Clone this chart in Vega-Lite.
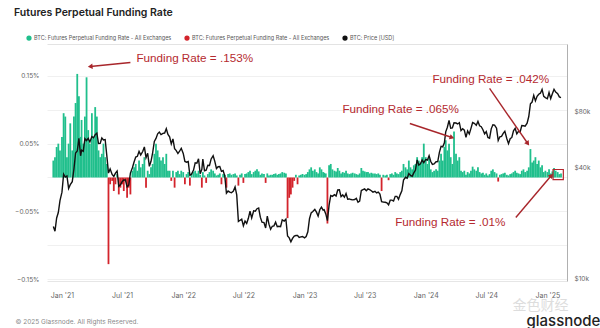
{
  "$schema": "https://vega.github.io/schema/vega-lite/v6.json",
  "width": 520,
  "height": 237,
  "autosize": {"type": "none"},
  "padding": {"left": 47, "top": 44, "right": 33, "bottom": 47},
  "background": "white",
  "config": {"view": {"stroke": null}, "font": "Inter"},
  "title": {"text": "Futures Perpetual Funding Rate", "anchor": "start", "frame": "group", "dx": -33, "offset": 17, "fontSize": 10.5, "fontWeight": 600, "color": "#222222", "font": "Inter"},
  "datasets": {
    "main": [
      {"t":"2020-12-06","f":0.025,"p":19150},{"t":"2020-12-11","f":0.03,"p":18050},{"t":"2020-12-16","f":0.045,"p":21300},{"t":"2020-12-21","f":0.05,"p":22800},{"t":"2020-12-26","f":0.04,"p":26450},
      {"t":"2021-01-01","f":0.06,"p":29400},{"t":"2021-01-06","f":0.095,"p":36800},{"t":"2021-01-11","f":0.09,"p":35500},{"t":"2021-01-16","f":0.03,"p":36000},{"t":"2021-01-21","f":0.05,"p":30800},{"t":"2021-01-26","f":0.08,"p":32300},
      {"t":"2021-02-01","f":0.04,"p":33500},{"t":"2021-02-06","f":0.09,"p":39200},{"t":"2021-02-11","f":0.11,"p":47900},{"t":"2021-02-16","f":0.153,"p":49100},{"t":"2021-02-21","f":0.12,"p":57500},{"t":"2021-02-26","f":0.06,"p":46300},
      {"t":"2021-03-01","f":0.085,"p":49600},{"t":"2021-03-06","f":0.05,"p":48900},{"t":"2021-03-11","f":0.09,"p":57300},{"t":"2021-03-16","f":0.148,"p":56000},{"t":"2021-03-21","f":0.07,"p":57500},{"t":"2021-03-26","f":0.05,"p":55000},
      {"t":"2021-04-01","f":0.095,"p":58900},{"t":"2021-04-06","f":0.06,"p":58000},{"t":"2021-04-11","f":0.104,"p":60200},{"t":"2021-04-16","f":0.09,"p":61400},{"t":"2021-04-21","f":0.04,"p":53900},{"t":"2021-04-26","f":0.03,"p":54000},
      {"t":"2021-05-01","f":0.035,"p":57800},{"t":"2021-05-06","f":0.05,"p":56400},{"t":"2021-05-11","f":0.03,"p":56700},{"t":"2021-05-16","f":0.02,"p":46400},{"t":"2021-05-21","f":-0.128,"p":37300},{"t":"2021-05-26","f":-0.01,"p":39300},
      {"t":"2021-06-01","f":-0.005,"p":36700},{"t":"2021-06-06","f":-0.02,"p":35800},{"t":"2021-06-11","f":-0.01,"p":37300},{"t":"2021-06-16","f":0.005,"p":38300},{"t":"2021-06-21","f":-0.025,"p":31600},{"t":"2021-06-26","f":-0.015,"p":32200},
      {"t":"2021-07-01","f":-0.01,"p":33500},{"t":"2021-07-06","f":-0.02,"p":34200},{"t":"2021-07-11","f":-0.005,"p":34200},{"t":"2021-07-16","f":-0.03,"p":31400},{"t":"2021-07-21","f":-0.015,"p":32100},{"t":"2021-07-26","f":-0.025,"p":37300},
      {"t":"2021-08-01","f":0.01,"p":39900},{"t":"2021-08-06","f":0.015,"p":42800},{"t":"2021-08-11","f":0.02,"p":45600},{"t":"2021-08-16","f":0.01,"p":46000},{"t":"2021-08-21","f":0.025,"p":48900},{"t":"2021-08-26","f":0.015,"p":46800},
      {"t":"2021-09-01","f":0.02,"p":48800},{"t":"2021-09-06","f":0.03,"p":51700},{"t":"2021-09-11","f":-0.015,"p":45200},{"t":"2021-09-16","f":0.01,"p":47800},{"t":"2021-09-21","f":0.005,"p":40600},{"t":"2021-09-26","f":0.015,"p":43200},
      {"t":"2021-10-01","f":0.02,"p":48200},{"t":"2021-10-06","f":0.035,"p":55400},{"t":"2021-10-11","f":0.05,"p":57500},{"t":"2021-10-16","f":0.04,"p":60900},{"t":"2021-10-21","f":0.03,"p":62200},{"t":"2021-10-26","f":0.025,"p":60300},
      {"t":"2021-11-01","f":0.03,"p":61300},{"t":"2021-11-06","f":0.02,"p":61500},{"t":"2021-11-11","f":0.035,"p":64900},{"t":"2021-11-16","f":0.01,"p":60400},{"t":"2021-11-21","f":0.01,"p":58600},{"t":"2021-11-26","f":-0.005,"p":53700},
      {"t":"2021-12-01","f":0.01,"p":57200},{"t":"2021-12-06","f":-0.015,"p":50600},{"t":"2021-12-11","f":0.008,"p":49400},{"t":"2021-12-16","f":0.01,"p":47600},{"t":"2021-12-21","f":0.005,"p":49000},{"t":"2021-12-26","f":0.01,"p":50800},
      {"t":"2022-01-01","f":0.008,"p":47700},{"t":"2022-01-06","f":-0.01,"p":43100},{"t":"2022-01-11","f":0.005,"p":42700},{"t":"2022-01-16","f":0.008,"p":43100},{"t":"2022-01-21","f":-0.012,"p":36300},{"t":"2022-01-26","f":0.006,"p":36800},
      {"t":"2022-02-01","f":0.008,"p":38700},{"t":"2022-02-06","f":0.01,"p":42400},{"t":"2022-02-11","f":0.006,"p":42200},{"t":"2022-02-16","f":0.01,"p":44600},{"t":"2022-02-21","f":0.004,"p":37000},{"t":"2022-02-26","f":-0.015,"p":39100},
      {"t":"2022-03-01","f":0.008,"p":44400},{"t":"2022-03-06","f":0.003,"p":38400},{"t":"2022-03-11","f":-0.008,"p":38700},{"t":"2022-03-16","f":0.005,"p":41100},{"t":"2022-03-21","f":0.008,"p":41000},{"t":"2022-03-26","f":0.012,"p":44500},
      {"t":"2022-04-01","f":0.01,"p":46300},{"t":"2022-04-06","f":0.006,"p":43200},{"t":"2022-04-11","f":0.003,"p":39500},{"t":"2022-04-16","f":0.004,"p":40400},{"t":"2022-04-21","f":0.006,"p":40500},{"t":"2022-04-26","f":-0.01,"p":38100},
      {"t":"2022-05-01","f":0.005,"p":38500},{"t":"2022-05-06","f":0.004,"p":36000},{"t":"2022-05-11","f":-0.015,"p":29000},{"t":"2022-05-16","f":0.005,"p":29800},{"t":"2022-05-21","f":0.006,"p":29400},{"t":"2022-05-26","f":0.004,"p":29200},
      {"t":"2022-06-01","f":0.005,"p":29800},{"t":"2022-06-06","f":0.006,"p":31400},{"t":"2022-06-11","f":0.003,"p":28400},{"t":"2022-06-16","f":-0.012,"p":20400},{"t":"2022-06-21","f":0.004,"p":20700},{"t":"2022-06-26","f":0.006,"p":21000},
      {"t":"2022-07-01","f":-0.008,"p":19300},{"t":"2022-07-06","f":0.005,"p":20500},{"t":"2022-07-11","f":0.006,"p":19900},{"t":"2022-07-16","f":0.008,"p":21200},{"t":"2022-07-21","f":0.01,"p":23200},{"t":"2022-07-26","f":0.005,"p":21300},
      {"t":"2022-08-01","f":0.008,"p":23300},{"t":"2022-08-06","f":0.01,"p":23200},{"t":"2022-08-11","f":0.012,"p":23900},{"t":"2022-08-16","f":0.009,"p":24100},{"t":"2022-08-21","f":0.004,"p":21500},{"t":"2022-08-26","f":0.006,"p":20200},
      {"t":"2022-09-01","f":0.005,"p":20100},{"t":"2022-09-06","f":-0.008,"p":18800},{"t":"2022-09-11","f":0.006,"p":21800},{"t":"2022-09-16","f":0.003,"p":19700},{"t":"2022-09-21","f":0.004,"p":18500},{"t":"2022-09-26","f":0.004,"p":19200},
      {"t":"2022-10-01","f":0.005,"p":19300},{"t":"2022-10-06","f":0.006,"p":20200},{"t":"2022-10-11","f":0.004,"p":19100},{"t":"2022-10-16","f":0.005,"p":19200},{"t":"2022-10-21","f":0.006,"p":19100},{"t":"2022-10-26","f":0.008,"p":20800},
      {"t":"2022-11-01","f":0.007,"p":20500},{"t":"2022-11-06","f":0.006,"p":21000},{"t":"2022-11-11","f":-0.06,"p":17000},{"t":"2022-11-16","f":-0.03,"p":16600},{"t":"2022-11-21","f":-0.025,"p":15800},{"t":"2022-11-26","f":-0.015,"p":16500},
      {"t":"2022-12-01","f":-0.005,"p":17000},{"t":"2022-12-06","f":0.004,"p":17100},{"t":"2022-12-11","f":-0.01,"p":17100},{"t":"2022-12-16","f":0.003,"p":16700},{"t":"2022-12-21","f":0.004,"p":16800},{"t":"2022-12-26","f":0.005,"p":16900},
      {"t":"2023-01-01","f":0.004,"p":16600},{"t":"2023-01-06","f":0.005,"p":16900},{"t":"2023-01-11","f":0.008,"p":17900},{"t":"2023-01-16","f":0.012,"p":21100},{"t":"2023-01-21","f":0.015,"p":22700},{"t":"2023-01-26","f":0.01,"p":23100},
      {"t":"2023-02-01","f":0.012,"p":23700},{"t":"2023-02-06","f":0.008,"p":22900},{"t":"2023-02-11","f":0.006,"p":21800},{"t":"2023-02-16","f":0.015,"p":23600},{"t":"2023-02-21","f":0.012,"p":24400},{"t":"2023-02-26","f":0.008,"p":23500},
      {"t":"2023-03-01","f":0.007,"p":23600},{"t":"2023-03-06","f":0.006,"p":22400},{"t":"2023-03-11","f":-0.068,"p":20600},{"t":"2023-03-16","f":0.018,"p":25000},{"t":"2023-03-21","f":0.02,"p":28200},{"t":"2023-03-26","f":0.012,"p":27900},
      {"t":"2023-04-01","f":0.01,"p":28500},{"t":"2023-04-06","f":0.009,"p":28000},{"t":"2023-04-11","f":0.014,"p":30200},{"t":"2023-04-16","f":0.01,"p":30300},{"t":"2023-04-21","f":0.006,"p":27800},{"t":"2023-04-26","f":0.008,"p":28400},
      {"t":"2023-05-01","f":0.007,"p":27600},{"t":"2023-05-06","f":0.01,"p":28900},{"t":"2023-05-11","f":0.006,"p":26900},{"t":"2023-05-16","f":0.005,"p":27000},{"t":"2023-05-21","f":0.006,"p":26800},{"t":"2023-05-26","f":0.007,"p":26700},
      {"t":"2023-06-01","f":0.006,"p":26800},{"t":"2023-06-06","f":0.005,"p":27200},{"t":"2023-06-11","f":0.004,"p":25900},{"t":"2023-06-16","f":0.006,"p":26300},{"t":"2023-06-21","f":0.014,"p":30000},{"t":"2023-06-26","f":0.01,"p":30300},
      {"t":"2023-07-01","f":0.009,"p":30600},{"t":"2023-07-06","f":0.008,"p":29900},{"t":"2023-07-11","f":0.008,"p":30600},{"t":"2023-07-16","f":0.006,"p":30300},{"t":"2023-07-21","f":0.007,"p":29900},{"t":"2023-07-26","f":0.006,"p":29400},
      {"t":"2023-08-01","f":0.006,"p":29700},{"t":"2023-08-06","f":0.005,"p":29100},{"t":"2023-08-11","f":0.006,"p":29400},{"t":"2023-08-16","f":0.004,"p":28700},{"t":"2023-08-21","f":-0.02,"p":26100},{"t":"2023-08-26","f":0.004,"p":26000},
      {"t":"2023-09-01","f":0.003,"p":25900},{"t":"2023-09-06","f":0.004,"p":25700},{"t":"2023-09-11","f":-0.004,"p":25100},{"t":"2023-09-16","f":0.005,"p":26600},{"t":"2023-09-21","f":0.006,"p":26600},{"t":"2023-09-26","f":0.004,"p":26300},
      {"t":"2023-10-01","f":0.008,"p":27900},{"t":"2023-10-06","f":0.006,"p":27900},{"t":"2023-10-11","f":0.005,"p":26900},{"t":"2023-10-16","f":0.008,"p":28500},{"t":"2023-10-21","f":0.01,"p":29900},{"t":"2023-10-26","f":0.02,"p":34200},
      {"t":"2023-11-01","f":0.015,"p":35400},{"t":"2023-11-06","f":0.012,"p":35000},{"t":"2023-11-11","f":0.025,"p":37100},{"t":"2023-11-16","f":0.015,"p":36200},{"t":"2023-11-21","f":0.012,"p":35800},{"t":"2023-11-26","f":0.018,"p":37400},
      {"t":"2023-12-01","f":0.02,"p":38700},{"t":"2023-12-06","f":0.03,"p":44000},{"t":"2023-12-11","f":0.025,"p":41200},{"t":"2023-12-16","f":0.022,"p":41900},{"t":"2023-12-21","f":0.03,"p":43900},{"t":"2023-12-26","f":0.05,"p":42500},
      {"t":"2024-01-01","f":0.03,"p":44200},{"t":"2024-01-06","f":0.02,"p":43900},{"t":"2024-01-11","f":0.028,"p":46300},{"t":"2024-01-16","f":0.012,"p":43100},{"t":"2024-01-21","f":0.008,"p":41600},{"t":"2024-01-26","f":0.01,"p":41800},
      {"t":"2024-02-01","f":0.012,"p":43000},{"t":"2024-02-06","f":0.01,"p":43100},{"t":"2024-02-11","f":0.025,"p":48300},{"t":"2024-02-16","f":0.035,"p":52100},{"t":"2024-02-21","f":0.025,"p":51800},{"t":"2024-02-26","f":0.045,"p":54500},
      {"t":"2024-03-01","f":0.055,"p":62400},{"t":"2024-03-06","f":0.04,"p":66100},{"t":"2024-03-11","f":0.05,"p":72100},{"t":"2024-03-16","f":0.03,"p":65300},{"t":"2024-03-21","f":0.02,"p":65500},{"t":"2024-03-26","f":0.068,"p":69900},
      {"t":"2024-04-01","f":0.035,"p":69700},{"t":"2024-04-06","f":0.025,"p":68900},{"t":"2024-04-11","f":0.03,"p":70000},{"t":"2024-04-16","f":0.01,"p":63400},{"t":"2024-04-21","f":0.008,"p":64900},{"t":"2024-04-26","f":0.01,"p":63800},
      {"t":"2024-05-01","f":0.004,"p":58300},{"t":"2024-05-06","f":0.008,"p":63200},{"t":"2024-05-11","f":0.006,"p":60800},{"t":"2024-05-16","f":0.01,"p":65200},{"t":"2024-05-21","f":0.016,"p":70100},{"t":"2024-05-26","f":0.012,"p":69400},
      {"t":"2024-06-01","f":0.01,"p":67800},{"t":"2024-06-06","f":0.015,"p":71100},{"t":"2024-06-11","f":0.008,"p":67300},{"t":"2024-06-16","f":0.006,"p":66600},{"t":"2024-06-21","f":0.007,"p":64100},{"t":"2024-06-26","f":0.004,"p":60900},
      {"t":"2024-07-01","f":0.006,"p":62700},{"t":"2024-07-06","f":0.003,"p":58200},{"t":"2024-07-11","f":0.005,"p":57700},{"t":"2024-07-16","f":0.01,"p":64800},{"t":"2024-07-21","f":0.012,"p":68200},{"t":"2024-07-26","f":0.008,"p":67900},
      {"t":"2024-08-01","f":0.006,"p":65300},{"t":"2024-08-06","f":-0.006,"p":56000},{"t":"2024-08-11","f":0.004,"p":58700},{"t":"2024-08-16","f":0.005,"p":59000},{"t":"2024-08-21","f":0.006,"p":61200},{"t":"2024-08-26","f":0.007,"p":62900},
      {"t":"2024-09-01","f":0.004,"p":57300},{"t":"2024-09-06","f":0.003,"p":53900},{"t":"2024-09-11","f":0.005,"p":57300},{"t":"2024-09-16","f":0.006,"p":58200},{"t":"2024-09-21","f":0.008,"p":63300},{"t":"2024-09-26","f":0.01,"p":65200},
      {"t":"2024-10-01","f":0.007,"p":60800},{"t":"2024-10-06","f":0.006,"p":62800},{"t":"2024-10-11","f":0.005,"p":62400},{"t":"2024-10-16","f":0.01,"p":67600},{"t":"2024-10-21","f":0.012,"p":67400},{"t":"2024-10-26","f":0.008,"p":67000},
      {"t":"2024-11-01","f":0.01,"p":69500},{"t":"2024-11-06","f":0.015,"p":75600},{"t":"2024-11-11","f":0.042,"p":88700},{"t":"2024-11-16","f":0.022,"p":90600},{"t":"2024-11-21","f":0.025,"p":98400},{"t":"2024-11-26","f":0.03,"p":91900},
      {"t":"2024-12-01","f":0.02,"p":97300},{"t":"2024-12-06","f":0.025,"p":99900},{"t":"2024-12-11","f":0.015,"p":101200},{"t":"2024-12-16","f":0.018,"p":106100},{"t":"2024-12-21","f":0.008,"p":97200},{"t":"2024-12-26","f":0.01,"p":95800},
      {"t":"2025-01-01","f":0.008,"p":94400},{"t":"2025-01-06","f":0.012,"p":102100},{"t":"2025-01-11","f":0.006,"p":94600},{"t":"2025-01-16","f":0.009,"p":100500},{"t":"2025-01-21","f":0.014,"p":106100},{"t":"2025-01-26","f":0.01,"p":102600},
      {"t":"2025-02-01","f":0.008,"p":100600},{"t":"2025-02-06","f":0.005,"p":96600},{"t":"2025-02-11","f":0.006,"p":95800}
    ],
    "notes": [
      {"t":"2021-08-13","f":0.1758,"label":"Funding Rate = .153%"},
      {"t":"2023-04-25","f":0.1015,"label":"Funding Rate = .065%"},
      {"t":"2024-01-21","f":0.1458,"label":"Funding Rate = .042%"},
      {"t":"2023-10-01","f":-0.066,"label":"Funding Rate = .01%"}
    ],
    "arrows": [
      {"t":"2021-07-26","f":0.1699,"t2":"2021-03-27","f2":0.164},
      {"t":"2023-11-14","f":0.0798,"t2":"2024-03-20","f2":0.0591},
      {"t":"2024-07-11","f":0.1315,"t2":"2024-11-03","f2":0.0502},
      {"t":"2024-09-28","f":-0.0591,"t2":"2025-01-13","f2":0.003}
    ]
  },
  "resolve": {"scale": {"y": "independent"}, "axis": {"x": "independent"}},
  "layer": [
    {
      "data": {"name": "main"},
      "mark": {"type": "bar", "width": 1.8, "clip": true},
      "encoding": {
        "x": {"field": "t", "type": "temporal", "scale": {"domain": [{"year": 2020, "month": 12, "date": 2}, {"year": 2025, "month": 2, "date": 14}]},
          "axis": {"format": "%b '%y", "tickCount": {"interval": "month", "step": 6}, "labelFontSize": 7, "labelColor": "#666666", "ticks": false, "domain": true, "domainColor": "#e6e6e6", "grid": false, "labelPadding": 10,
            "title": "© 2025 Glassnode. All Rights Reserved.", "titleFontSize": 6.5, "titleColor": "#8a8a8a", "titleFontWeight": "normal", "titleAnchor": "start", "titleAlign": "left", "titleX": -32, "titleY": 40, "titleBaseline": "middle"}},
        "y": {"field": "f", "type": "quantitative", "scale": {"domain": [-0.1529, 0.1972]},
          "axis": {"values": [-0.15, -0.1, -0.05, 0, 0.05, 0.1, 0.15], "labelExpr": "(abs(datum.value) > 0.04 && abs(datum.value) < 0.06) || abs(datum.value) > 0.14 ? format(datum.value, '.2f') + '%' : ''", "grid": true, "gridColor": "#f0f0f0", "domain": false, "ticks": false, "labelFontSize": 6.5, "labelColor": "#666666", "labelPadding": 8,
            "title": "金色财经", "titleAngle": 0, "titleX": 465, "titleY": 261, "titleFontSize": 14, "titleColor": "#dddddd", "titleFont": "Noto Sans CJK SC", "titleFontWeight": "normal", "titleAlign": "left", "titleBaseline": "middle"}},
        "color": {"datum": "pos", "type": "nominal", "condition": {"test": "datum.f < 0", "value": "#d3242c"},
          "scale": {"domain": ["pos", "neg", "price"], "range": ["#20bf8c", "#d3242c", "#111111"]},
          "legend": {"orient": "none", "legendX": -21, "legendY": -9, "direction": "horizontal", "title": null, "labelFontSize": 5.5, "labelColor": "#555555", "symbolType": "circle", "symbolSize": 14, "columnPadding": 10, "labelOffset": 2,
            "labelExpr": "datum.value == 'price' ? 'BTC: Price [USD]' : 'BTC: Futures Perpetual Funding Rate - All Exchanges'"}}
      }
    },
    {
      "data": {"name": "main"},
      "mark": {"type": "line", "strokeWidth": 1.4},
      "encoding": {
        "x": {"field": "t", "type": "temporal", "scale": {"domain": [{"year": 2020, "month": 12, "date": 2}, {"year": 2025, "month": 2, "date": 14}]},
          "axis": {"orient": "top", "labels": false, "ticks": false, "grid": false, "domain": true, "domainColor": "#e3e3e3", "title": null}},
        "y": {"field": "p", "type": "quantitative", "scale": {"type": "log", "domain": [9690, 187000]},
          "axis": {"orient": "right", "values": [10000, 40000, 80000], "labelExpr": "'$' + (datum.value / 1000) + 'k'", "grid": false, "domain": true, "domainColor": "#b0b0b0", "ticks": false, "labelFontSize": 6.5, "labelColor": "#666666", "labelPadding": 7,
            "title": "glassnode", "titleAngle": 0, "titleX": -41, "titleY": 276, "titleFontSize": 15, "titleFont": "Inter", "titleFontWeight": 500, "titleColor": "#222222", "titleAlign": "left", "titleBaseline": "middle"}},
        "color": {"datum": "price", "type": "nominal"}
      }
    },
    {
      "encoding": {
        "x": {"field": "t", "type": "temporal", "axis": null, "scale": {"domain": [{"year": 2020, "month": 12, "date": 2}, {"year": 2025, "month": 2, "date": 14}]}},
        "y": {"field": "f", "type": "quantitative", "axis": null, "scale": {"domain": [-0.1529, 0.1972]}}
      },
      "layer": [
        {
          "data": {"values": [{"t": "2025-01-18", "t2": "2025-02-18", "f": 0.0118, "f2": -0.003}]},
          "mark": {"type": "rect", "filled": false, "color": "#b3262d", "strokeWidth": 1.2},
          "encoding": {"x2": {"field": "t2"}, "y2": {"field": "f2"}}
        },
        {
          "data": {"name": "arrows"},
          "mark": {"type": "rule", "color": "#a8262b", "strokeWidth": 1.4},
          "encoding": {"x2": {"field": "t2"}, "y2": {"field": "f2"}}
        },
        {
          "data": {"values": [{"t": "2021-03-27", "f": 0.164}]},
          "mark": {"type": "point", "shape": "triangle-up", "filled": true, "color": "#a8262b", "size": 30, "opacity": 1, "angle": 264},
          "encoding": {}
        },
        {
          "data": {"values": [{"t": "2024-03-20", "f": 0.0591}]},
          "mark": {"type": "point", "shape": "triangle-up", "filled": true, "color": "#a8262b", "size": 30, "opacity": 1, "angle": 108},
          "encoding": {}
        },
        {
          "data": {"values": [{"t": "2024-11-03", "f": 0.0502}]},
          "mark": {"type": "point", "shape": "triangle-up", "filled": true, "color": "#a8262b", "size": 30, "opacity": 1, "angle": 145},
          "encoding": {}
        },
        {
          "data": {"values": [{"t": "2025-01-13", "f": 0.003}]},
          "mark": {"type": "point", "shape": "triangle-up", "filled": true, "color": "#a8262b", "size": 30, "opacity": 1, "angle": 41},
          "encoding": {}
        },
        {
          "data": {"name": "notes"},
          "mark": {"type": "text", "align": "left", "baseline": "middle", "font": "Liberation Sans", "fontSize": 11.7, "color": "#b52a2f"},
          "encoding": {"text": {"field": "label"}}
        }
      ]
    }
  ]
}
